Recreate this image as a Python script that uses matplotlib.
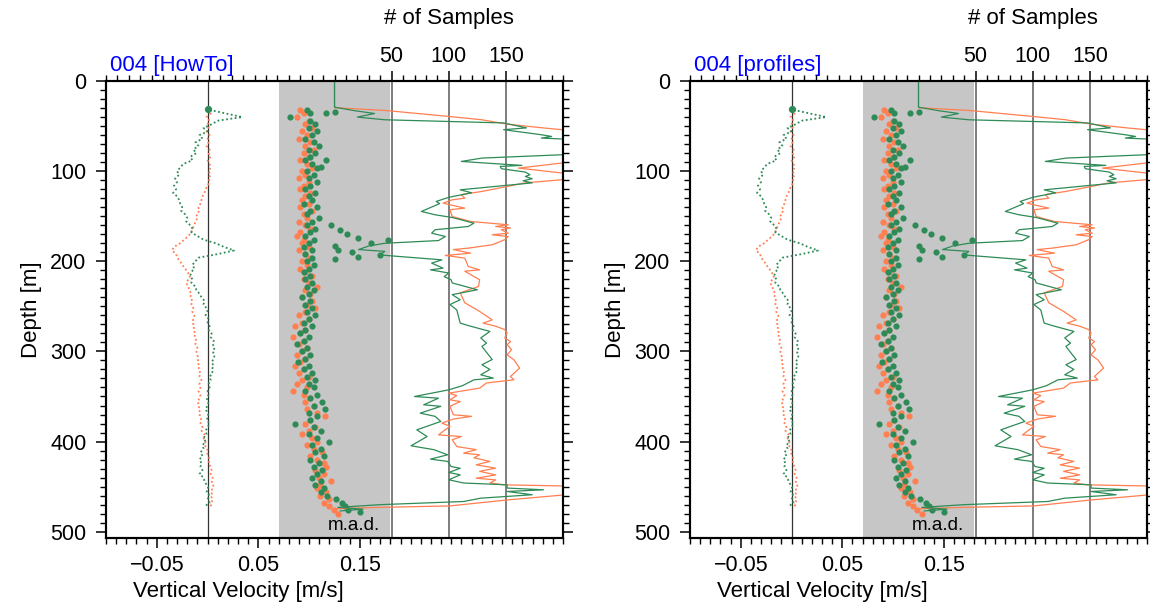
import matplotlib
matplotlib.use('Agg')
import matplotlib.pyplot as plt
import matplotlib.transforms as mtransforms
import numpy as np
from matplotlib.ticker import MultipleLocator

plt.rcParams['font.family'] = ['Liberation Sans', 'DejaVu Sans']

GREEN = '#2e8b57'
ORANGE = '#ff7f50'

titles = ['004 [HowTo]', '004 [profiles]']

# depth bins [m] for velocity profiles and m.a.d.
depth = np.arange(32, 473, 4)

vel_green = [
    0.002, 0.018, 0.034, 0.010, 0.004, -0.004, 0.000, -0.008, -0.005, -0.012,
    -0.009, -0.014, -0.011, -0.017, -0.015, -0.024, -0.027, -0.030, -0.028, -0.032,
    -0.030, -0.033, -0.031, -0.034, -0.030, -0.028, -0.027, -0.025, -0.026, -0.022,
    -0.020, -0.021, -0.017, -0.015, -0.016, -0.010, -0.004, 0.008, 0.016, 0.026,
    0.010, -0.009, -0.012, -0.015, -0.013, -0.016, -0.017, -0.015, -0.016, -0.012,
    -0.011, -0.008, -0.006, -0.003, -0.004, -0.001, 0.000, -0.002, 0.001, 0.000,
    0.002, 0.001, 0.004, 0.003, 0.006, 0.005, 0.007, 0.005, 0.007, 0.006,
    0.004, 0.006, 0.004, 0.005, 0.002, 0.003, 0.001, 0.002, 0.000, 0.001,
    -0.001, 0.001, 0.000, -0.002, 0.000, 0.001, -0.001, 0.002, 0.000, -0.002,
    -0.001, -0.004, -0.002, -0.005, -0.004, -0.007, -0.005, -0.008, -0.006, -0.007,
    -0.005, -0.008, -0.004, -0.003, -0.001, 0.001, -0.001, 0.002, 0.000, 0.002,
    -0.003]
vel_orange = [
    0.000, 0.003, -0.001, 0.002, 0.000, 0.001, -0.001, 0.002, 0.000, 0.001,
    -0.001, 0.002, 0.001, 0.003, 0.000, 0.002, 0.003, 0.001, 0.003, 0.001,
    0.002, 0.000, -0.002, -0.003, -0.005, -0.006, -0.007, -0.009, -0.008, -0.011,
    -0.010, -0.012, -0.013, -0.015, -0.016, -0.019, -0.023, -0.027, -0.033, -0.035,
    -0.031, -0.030, -0.027, -0.025, -0.022, -0.020, -0.017, -0.019, -0.021, -0.019,
    -0.018, -0.016, -0.017, -0.015, -0.016, -0.014, -0.015, -0.013, -0.014, -0.015,
    -0.013, -0.014, -0.012, -0.013, -0.011, -0.012, -0.010, -0.011, -0.010, -0.009,
    -0.010, -0.008, -0.009, -0.007, -0.008, -0.006, -0.008, -0.007, -0.009, -0.007,
    -0.008, -0.010, -0.008, -0.009, -0.007, -0.008, -0.006, -0.007, -0.005, -0.006,
    -0.003, -0.004, -0.002, -0.003, 0.000, -0.001, 0.001, 0.002, 0.001, 0.003,
    0.004, 0.003, 0.005, 0.004, 0.006, 0.004, 0.005, 0.003, 0.005, 0.004,
    0.003]

# m.a.d. (drawn on the velocity axis)
mad_green = [
    0.098, 0.101, 0.081, 0.101, 0.106, 0.100, 0.108, 0.103, 0.096, 0.105,
    0.110, 0.100, 0.106, 0.101, 0.096, 0.103, 0.108, 0.098, 0.105, 0.100,
    0.108, 0.101, 0.096, 0.106, 0.100, 0.103, 0.095, 0.108, 0.101, 0.098,
    0.110, 0.103, 0.098, 0.106, 0.101, 0.096, 0.105, 0.100, 0.095, 0.103,
    0.096, 0.103, 0.098, 0.105, 0.100, 0.095, 0.101, 0.096, 0.103, 0.098,
    0.105, 0.100, 0.093, 0.101, 0.096, 0.103, 0.098, 0.106, 0.100, 0.095,
    0.103, 0.096, 0.091, 0.100, 0.095, 0.088, 0.098, 0.093, 0.101, 0.096,
    0.089, 0.100, 0.095, 0.103, 0.098, 0.106, 0.100, 0.105, 0.096, 0.108,
    0.101, 0.113, 0.105, 0.116, 0.100, 0.108, 0.101, 0.086, 0.105, 0.112,
    0.100, 0.108, 0.120, 0.103, 0.112, 0.106, 0.115, 0.101, 0.110, 0.105,
    0.113, 0.108, 0.103, 0.112, 0.106, 0.115, 0.112, 0.118, 0.126, 0.132,
    0.135]
mad_orange = [
    0.091, 0.095, 0.088, 0.100, 0.096, 0.103, 0.093, 0.098, 0.090, 0.101,
    0.096, 0.105, 0.095, 0.100, 0.091, 0.098, 0.103, 0.093, 0.096, 0.090,
    0.100, 0.095, 0.091, 0.101, 0.096, 0.093, 0.100, 0.091, 0.103, 0.095,
    0.098, 0.090, 0.096, 0.101, 0.091, 0.088, 0.095, 0.093, 0.100, 0.090,
    0.096, 0.101, 0.093, 0.098, 0.091, 0.096, 0.103, 0.095, 0.100, 0.108,
    0.096, 0.101, 0.093, 0.103, 0.098, 0.106, 0.096, 0.090, 0.100, 0.093,
    0.086, 0.096, 0.091, 0.084, 0.095, 0.090, 0.098, 0.093, 0.088, 0.096,
    0.091, 0.086, 0.095, 0.090, 0.100, 0.093, 0.088, 0.098, 0.084, 0.095,
    0.101, 0.096, 0.105, 0.098, 0.108, 0.116, 0.101, 0.096, 0.106, 0.100,
    0.093, 0.103, 0.108, 0.098, 0.105, 0.113, 0.101, 0.108, 0.115, 0.117,
    0.106, 0.115, 0.110, 0.122, 0.111, 0.108, 0.117, 0.111, 0.120, 0.115,
    0.120]

# scattered m.a.d. outliers
extra_green_depth = [34, 36, 88, 95, 160, 165, 170, 174, 176, 180, 183, 187,
                     190, 193, 195, 198, 476, 478]
extra_green_mad = [0.125, 0.117, 0.117, 0.112, 0.122, 0.130, 0.137, 0.148,
                   0.178, 0.161, 0.125, 0.128, 0.142, 0.170, 0.148, 0.125,
                   0.138, 0.150]
extra_orange_depth = [476, 480]
extra_orange_mad = [0.124, 0.128]

# number of samples per depth
n_green_depth = [
    0, 29, 33, 36, 40, 43, 46.5, 52, 54, 59.6,
    61.5, 63.3, 66, 80, 81.8, 85.5, 89.2, 91, 93.6, 94.8,
    97.3, 101, 104, 105.9, 108.4, 110.7, 113, 120.7, 124, 129,
    133.6, 136, 144.7, 148.4, 151.4, 157.7, 161.4, 165, 168.8, 172.5,
    177, 180, 183, 187, 189, 193, 198.4, 202, 207.6, 209.5,
    213, 217, 220.5, 224, 231.6, 237, 242.7, 248, 254, 268.6,
    272, 277.8, 285, 290.8, 294.5, 309, 314.8, 320, 325.9, 329.6,
    331.5, 338, 342.6, 350, 351.9, 359.2, 360.9, 368.5, 372, 377.7,
    387, 394.4, 404.7, 409, 414.7, 419.5, 422, 427.7, 429.6, 434.3,
    436.9, 442.4, 446, 448, 451.6, 453.5, 455.4, 459, 462.8, 466.5,
    470, 473, 475, 477]
n_green = [
    0, 0, 18, 35, 20, 44, 148, 168, 148, 181,
    190, 181, 230, 230, 199, 129, 111, 132, 164, 145,
    146, 167, 171, 167, 173, 165, 173, 110, 120, 100,
    89, 92, 76, 88, 103, 122, 117, 88, 85, 97,
    91, 44, 30, 21, 44, 40, 94, 85, 95, 84,
    100, 96, 102, 103, 125, 103, 110, 101, 107, 110,
    119, 136, 128, 133, 129, 138, 129, 136, 128, 139,
    122, 112, 100, 70, 91, 78, 93, 75, 88, 93,
    72, 81, 67, 87, 99, 84, 99, 102, 110, 100,
    110, 100, 113, 151, 151, 183, 151, 173, 128, 113,
    40, 3, 25, 5]
n_orange_depth = [
    0, 29.6, 32.6, 39.3, 43, 47.8, 52.2, 54, 56, 89,
    91, 96.6, 102, 104, 108, 109.5, 113, 122.5, 126, 130,
    131.8, 135.5, 141, 142.8, 150.3, 155.8, 159.5, 161.4, 163, 165,
    168.8, 170.6, 172.5, 176, 181.7, 185.4, 187, 191, 193.5, 196.5,
    205.7, 209.5, 211, 220.5, 228, 235, 246, 255.6, 265, 268.6,
    272, 275.8, 279.5, 285, 289, 292.6, 298, 303.7, 309.3, 318.5,
    327.8, 331.5, 335, 340.7, 346.3, 349, 353.7, 355.6, 361, 370.3,
    372, 375, 379.6, 383, 392.6, 394.4, 398, 405.5, 409, 412.8,
    414.7, 418, 422, 425.8, 429.5, 433, 437, 440.7, 442.5, 446,
    448, 450, 458, 459.3, 464.8, 471.4, 473, 474.5]
n_orange = [
    0, 0, 44, 100, 129, 151, 184, 199, 230, 230,
    199, 161, 199, 230, 230, 199, 167, 129, 111, 114,
    103, 95, 114, 101, 103, 119, 152, 141, 154, 146,
    152, 138, 152, 149, 138, 117, 104, 119, 97, 114,
    117, 127, 114, 127, 126, 110, 114, 127, 138, 130,
    141, 149, 151, 149, 154, 151, 155, 151, 157, 162,
    154, 157, 133, 127, 100, 107, 101, 110, 101, 104,
    120, 104, 94, 101, 91, 111, 103, 107, 124, 113,
    127, 122, 136, 124, 141, 127, 141, 124, 141, 136,
    148, 230, 230, 200, 151, 101, 40, 0]

first_depth = 31
first_vel = 0.0

fig = plt.figure(figsize=(11.5, 6.06), dpi=100)

for left, title in zip([0.0922, 0.6], titles):
    ax = fig.add_axes([left, 0.1122, 0.3974, 0.7541])
    ax.set_xlim(-0.1, 0.35)
    ax.set_ylim(507, 0)

    ax.axvspan(0.07, 0.18, color='#c6c6c6', lw=0, zorder=0)
    ax.axvline(0, color='#333333', lw=0.9, zorder=1)

    ax.plot(vel_orange, depth, ls=(0, (1, 1.4)), color=ORANGE, lw=1.3, zorder=2)
    ax.plot(vel_green, depth, ls=(0, (1, 1.4)), color=GREEN, lw=1.3, zorder=2)
    ax.plot([first_vel], [first_depth], 'o', color=GREEN, ms=4.2, zorder=3)

    ax.scatter(mad_orange, depth, s=20, color=ORANGE, lw=0, zorder=3)
    ax.scatter(extra_orange_mad, extra_orange_depth, s=20, color=ORANGE, lw=0, zorder=3)
    ax.scatter(mad_green, depth, s=20, color=GREEN, lw=0, zorder=4)
    ax.scatter(extra_green_mad, extra_green_depth, s=20, color=GREEN, lw=0, zorder=4)

    ax.text(0.17, 498, 'm.a.d.', ha='right', va='baseline', fontsize=13.5)

    ax.set_xticks([-0.05, 0.05, 0.15], ['\u22120.05', '0.05', '0.15'])
    ax.xaxis.set_minor_locator(MultipleLocator(0.01))
    ax.set_yticks([0, 100, 200, 300, 400, 500])
    ax.yaxis.set_minor_locator(MultipleLocator(10))
    ax.tick_params(axis='x', which='both', bottom=True, top=False, direction='out',
                   labelsize=15.5, pad=5)
    ax.tick_params(axis='y', which='both', left=True, right=True, direction='out',
                   labelsize=15.5, pad=7)
    ax.tick_params(which='major', length=7, width=1.1)
    ax.tick_params(which='minor', length=4, width=1.0)
    ax.set_ylabel('Depth [m]', fontsize=16, labelpad=6)
    for sp in ax.spines.values():
        sp.set_linewidth(1.5)

    trans = mtransforms.blended_transform_factory(ax.transData, ax.transAxes)
    ax.text(0.03, -0.1284, 'Vertical Velocity [m/s]', transform=trans,
            ha='center', va='baseline', fontsize=16)
    ax.text(0.008, 1.0225, title, transform=ax.transAxes, color='#0000ff',
            ha='left', va='baseline', fontsize=16)

    # sample counts on a twin x axis
    ax2 = ax.twiny()
    ax2.set_xlim(-200, 200)
    for s in [50, 100, 150]:
        ax2.axvline(s, color='#5a5a5a', lw=1.1, zorder=1)
    ax2.plot(n_orange, n_orange_depth, color=ORANGE, lw=0.9, zorder=2)
    ax2.plot(n_green, n_green_depth, color=GREEN, lw=0.9, zorder=2)
    ax2.set_xticks([50, 100, 150])
    ax2.xaxis.set_minor_locator(MultipleLocator(10))
    ax2.tick_params(axis='x', which='both', top=True, bottom=False, direction='out',
                    labelsize=15.5, pad=3)
    ax2.tick_params(axis='x', which='major', length=7, width=1.1)
    ax2.tick_params(axis='x', which='minor', length=4, width=1.0)
    ax2.tick_params(axis='y', left=False, right=False, labelleft=False, labelright=False)
    for sp in ax2.spines.values():
        sp.set_linewidth(1.5)

    trans2 = mtransforms.blended_transform_factory(ax2.transData, ax2.transAxes)
    ax2.text(100, 1.1247, '# of Samples', transform=trans2, ha='center',
             va='baseline', fontsize=16)

fig.savefig('out.png', dpi=100)
